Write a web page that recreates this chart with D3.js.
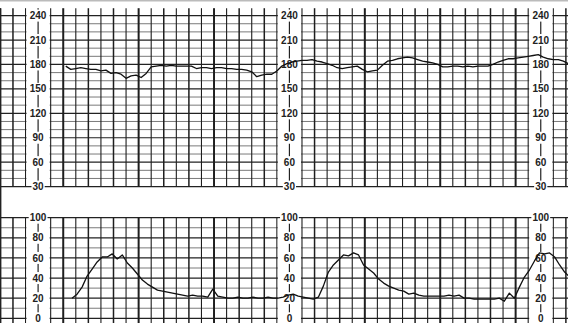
<!DOCTYPE html>
<html>
<head>
<meta charset="utf-8">
<script src="https://cdn.jsdelivr.net/npm/d3@7"></script>
<style>
html, body { margin: 0; padding: 0; background: #fff; }
svg { display: block; }
</style>
</head>
<body>
<div id="chart"></div>
<script>
// Size of the strip
var width = 568, height = 323;

// Fetal heart rate (bpm), one reading every 4 s starting at 52 s
var fhrStart = 52, fhrStep = 4;
var fhrValues = [
  178, 174, 175, 176, 175, 174, 174, 172, 173, 169,
  170, 168, 163, 166, 167, 164, 169, 177, 178, 179,
  178, 179, 178, 178, 178, 178, 175, 176, 176, 175,
  176, 176, 175, 175, 174, 174, 173, 171, 165, 167,
  168, 168, 172, 178, 181, 183, 184, 185, 185, 186,
  184, 183, 181, 179, 176, 175, 176, 177, 178, 174,
  171, 172, 173, 179, 184, 185, 187, 188, 189, 188,
  186, 184, 183, 182, 180, 177, 177, 178, 178, 177,
  178, 177, 178, 178, 178, 180, 183, 185, 187, 187,
  188, 189, 190, 191, 192, 189, 187, 186, 186, 184,
  181
];

// Uterine contractions, one reading every 4 s starting at 57 s
var ucStart = 57, ucStep = 4;
var ucValues = [
  20, 24, 31, 42, 49, 56, 61, 61, 64, 59,
  63, 55, 50, 44, 38, 34, 31, 28, 27, 26,
  25, 24, 23, 22, 23, 22, 22, 21, 29, 22,
  21, 20, 20, 21, 20, 20, 21, 20, 20, 21,
  20, 20, 21, 23, 24, 22, 21, 20, 19, 21,
  32, 46, 53, 58, 63, 62, 65, 63, 53, 49,
  45, 39, 35, 32, 30, 28, 27, 24, 25, 23,
  22, 22, 22, 22, 22, 23, 22, 23, 20, 20,
  19, 19, 19, 19, 19, 20, 17, 25, 20, 31,
  41, 48, 57, 65, 64, 65, 61, 53, 46, 41
];

// Tick labels
var fhrTicks = [30, 60, 90, 120, 150, 180, 210, 240];
var ucTicks = [0, 20, 40, 60, 80, 100];
// label columns (seconds along the strip)
var labelTimes = [30, 230, 430];

// Scales
var x = d3.scaleLinear().domain([0, 452]).range([0.4, 568.4]);
var yF = d3.scaleLinear().domain([30, 240]).range([186.6, 15.6]);
var yU = d3.scaleLinear().domain([0, 100]).range([318.3, 217.7]);

var svg = d3.select("#chart").append("svg")
    .attr("width", width)
    .attr("height", height);

svg.append("rect").attr("width", width).attr("height", height).attr("fill", "#fff");

// scan edge at the top
svg.append("line")
    .attr("x1", 0).attr("x2", width)
    .attr("y1", 0.7).attr("y2", 0.7)
    .attr("stroke", "#bbb").attr("stroke-width", 1.4);

var topY0 = 8.2, topY1 = yF(30);
var botY0 = yU(100), botY1 = height;

var grid = svg.append("g");

// horizontal lines
var fhrLines = d3.range(30, 241, 10);
var ucLines = d3.range(0, 101, 10);

grid.selectAll(".hf")
    .data(fhrLines)
    .join("line")
    .attr("class", "hf")
    .attr("x1", 0).attr("x2", width)
    .attr("y1", d => yF(d)).attr("y2", d => yF(d))
    .attr("stroke", d => d % 30 === 0 ? "#222" : "#7a7a7a")
    .attr("stroke-width", d => d % 30 === 0 ? 1.2 : 1);

grid.selectAll(".hu")
    .data(ucLines)
    .join("line")
    .attr("class", "hu")
    .attr("x1", 0).attr("x2", width)
    .attr("y1", d => yU(d)).attr("y2", d => yU(d))
    .attr("stroke", d => d % 20 === 0 ? "#222" : "#7a7a7a")
    .attr("stroke-width", d => d % 20 === 0 ? 1.2 : 1);

// vertical lines, every 10 s, heavier every 20 s and every minute
var timeLines = d3.range(0, 452, 10);
function vWidth(t) {
    if (t % 60 === 50) return 2;
    if (t % 20 === 10) return 1.5;
    return 1.1;
}

[[topY0, topY1], [botY0, botY1]].forEach(function(span) {
    grid.append("g").selectAll("line")
        .data(timeLines)
        .join("line")
        .attr("x1", d => x(d)).attr("x2", d => x(d))
        .attr("y1", span[0]).attr("y2", span[1])
        .attr("stroke", "#1e1e1e")
        .attr("stroke-width", vWidth);
});

// left edge runs through the gap
grid.append("line")
    .attr("x1", 0.7).attr("x2", 0.7)
    .attr("y1", topY0).attr("y2", height)
    .attr("stroke", "#222").attr("stroke-width", 1.4);

// label columns: white band with a single centre line
var bands = svg.append("g");
labelTimes.forEach(function(t) {
    var bx0 = x(t - 10) + 1, bx1 = x(t + 10) - 1;
    [[topY0, topY1 - 1], [botY0 + 1, botY1]].forEach(function(span) {
        bands.append("rect")
            .attr("x", bx0).attr("y", span[0])
            .attr("width", bx1 - bx0).attr("height", span[1] - span[0])
            .attr("fill", "#fff");
    });
    bands.append("line")
        .attr("x1", x(t)).attr("x2", x(t))
        .attr("y1", topY0).attr("y2", topY1)
        .attr("stroke", "#222").attr("stroke-width", 1.2);
    bands.append("line")
        .attr("x1", x(t)).attr("x2", x(t))
        .attr("y1", botY0).attr("y2", botY1)
        .attr("stroke", "#222").attr("stroke-width", 1.2);
});

// tick labels with white backing
var labels = svg.append("g")
    .attr("font-family", "'Liberation Sans', Arial, sans-serif")
    .attr("font-size", 10)
    .attr("font-weight", "bold")
    .attr("fill", "#222");

function addLabel(cx, cy, txt) {
    var w = String(txt).length * 5.6 + 2;
    labels.append("rect")
        .attr("x", cx - w / 2).attr("y", cy - 6)
        .attr("width", w).attr("height", 12)
        .attr("fill", "#fff");
    labels.append("text")
        .attr("x", cx).attr("y", cy)
        .attr("dy", "0.36em")
        .attr("text-anchor", "middle")
        .text(txt);
}

labelTimes.forEach(function(t) {
    fhrTicks.forEach(v => addLabel(x(t), yF(v), v));
    ucTicks.forEach(v => addLabel(x(t), yU(v), v));
});

// traces
var fhrLine = d3.line()
    .x((d, i) => x(fhrStart + i * fhrStep))
    .y(d => yF(d));

var ucLine = d3.line()
    .x((d, i) => x(ucStart + i * ucStep))
    .y(d => yU(d));

svg.append("path")
    .datum(fhrValues)
    .attr("d", fhrLine)
    .attr("fill", "none")
    .attr("stroke", "#111")
    .attr("stroke-width", 1.3)
    .attr("stroke-linejoin", "round");

svg.append("path")
    .datum(ucValues)
    .attr("d", ucLine)
    .attr("fill", "none")
    .attr("stroke", "#111")
    .attr("stroke-width", 1.3)
    .attr("stroke-linejoin", "round");
</script>
</body>
</html>
